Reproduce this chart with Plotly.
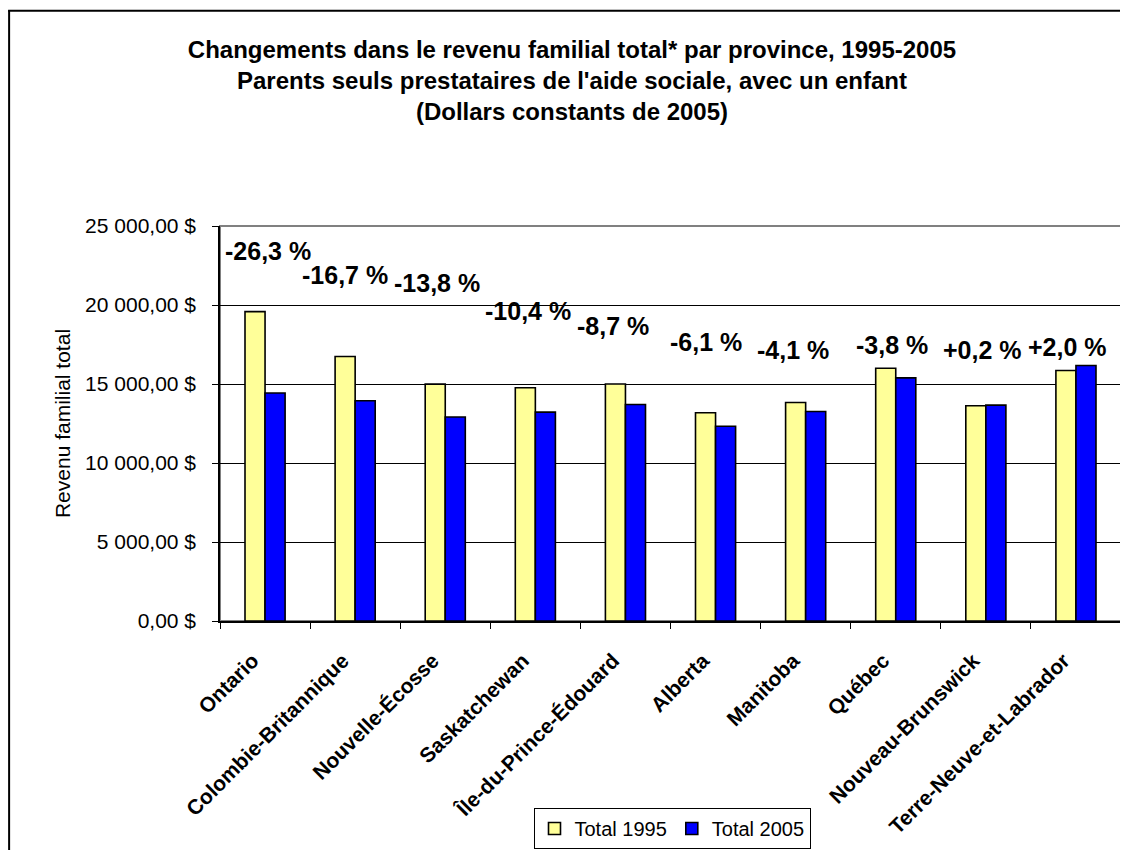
import plotly.graph_objects as go

provinces = ["Ontario", "Colombie-Britannique", "Nouvelle-Écosse", "Saskatchewan",
             "Île-du-Prince-Édouard", "Alberta", "Manitoba", "Québec",
             "Nouveau-Brunswick", "Terre-Neuve-et-Labrador"]
total_1995 = [19580, 16740, 14990, 14760, 15000, 13180, 13830, 16000, 13620, 15850]
total_2005 = [14430, 13940, 12910, 13220, 13700, 12330, 13260, 15390, 13660, 16170]
change_labels = ["-26,3 %", "-16,7 %", "-13,8 %", "-10,4 %", "-8,7 %",
                 "-6,1 %", "-4,1 %", "-3,8 %", "+0,2 %", "+2,0 %"]
y_tick_vals = [0, 5000, 10000, 15000, 20000, 25000]
y_tick_text = ["0,00 $", "5 000,00 $", "10 000,00 $", "15 000,00 $", "20 000,00 $", "25 000,00 $"]

# label placement (as in the original, where labels were dragged by hand)
label_y = [23390, 21930, 21420, 19590, 18640, 17690, 17180, 17500, 17180, 17370]
label_dx = [3, -10, -8, -7, -12, -10, -13, -4, -3, -8]

FONT = "Arial, Liberation Sans, sans-serif"
W, H = 1128, 850
# the page body adds an 8px offset; figure coordinates below are screen - 8
ML, MT = 212, 218
PW, PH = 901.5, 395.5
MR = W - ML - PW
MB = H - MT - PH

fig = go.Figure()
fig.add_trace(go.Bar(x=provinces, y=total_1995, name="Total 1995",
                     marker=dict(color="#FFFF99", line=dict(color="black", width=1.6))))
fig.add_trace(go.Bar(x=provinces, y=total_2005, name="Total 2005",
                     marker=dict(color="#0000FF", line=dict(color="black", width=1.6))))

for p, t, yy, dx in zip(provinces, change_labels, label_y, label_dx):
    fig.add_annotation(x=p, y=yy, text=f"<b>{t}</b>", showarrow=False, xshift=dx,
                       font=dict(family=FONT, size=25, color="black"))

def px_x(px):
    return (px - ML) / PW

def px_y(py):
    return (MT + PH - py) / PH

shapes = [
    # outer chart border (left + top)
    dict(type="line", xref="paper", yref="paper", x0=px_x(1), x1=px_x(1), y0=px_y(2), y1=px_y(860),
         line=dict(color="black", width=2)),
    dict(type="line", xref="paper", yref="paper", x0=px_x(0), x1=px_x(1140), y0=px_y(2.5), y1=px_y(2.5),
         line=dict(color="black", width=2)),
    # plot area border
    dict(type="rect", xref="paper", yref="paper", x0=0, x1=1, y0=0, y1=1,
         line=dict(color="#808080", width=2), layer="below"),
]

NB = "\u00a0"

fig.update_layout(
    width=W, height=H,
    margin=dict(l=ML, r=MR, t=MT, b=MB, autoexpand=False),
    paper_bgcolor="white", plot_bgcolor="white",
    barmode="group", bargap=0.555, bargroupgap=0,
    font=dict(family=FONT, color="black"),
    title=dict(text="<b>Changements dans le revenu familial total* par province, 1995-2005<br>"
                    "Parents seuls prestataires de l'aide sociale, avec un enfant<br>"
                    "(Dollars constants de 2005)</b>",
               x=564 / W, xanchor="center", xref="container",
               y=1 - 50 / H, yanchor="top", yref="container",
               font=dict(family=FONT, size=24, color="black")),
    showlegend=True,
    legend=dict(orientation="h", xref="container", yref="container",
                x=664 / W, xanchor="center", y=1 - 800 / H, yanchor="top",
                bordercolor="black", borderwidth=1, bgcolor="white",
                font=dict(family=FONT, size=20, color="black"),
                itemwidth=30, tracegroupgap=0),
    shapes=shapes,
    xaxis=dict(showline=True, linecolor="black", linewidth=1.5, automargin=False,
               ticks="outside", ticklen=6, tickcolor="black", tickson="boundaries",
               tickangle=-45, tickfont=dict(family=FONT, size=21, color="black"),
               tickvals=provinces, ticktext=[f"<b>{p}</b>{NB * 3}" for p in provinces],
               ticklabelstandoff=5,
               showgrid=False),
    yaxis=dict(range=[0, 25000], tickvals=y_tick_vals, ticktext=y_tick_text,
               showline=True, linecolor="black", linewidth=1.5, automargin=False,
               ticks="outside", ticklen=6, tickcolor="black", ticklabelstandoff=12,
               showgrid=True, gridcolor="black", gridwidth=1,
               tickfont=dict(family=FONT, size=21, color="black"),
               title=dict(text="Revenu familial total", standoff=9,
                          font=dict(family=FONT, size=21, color="black")),
               zeroline=False),
)

fig.write_html("out.html")
